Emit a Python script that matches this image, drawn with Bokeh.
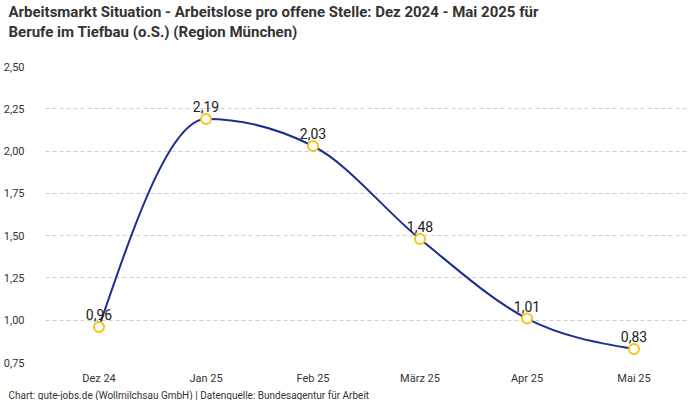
import numpy as np
from bokeh.plotting import figure
from bokeh.models import (Range1d, FixedTicker, CustomJSTickFormatter, Title,
                          ColumnDataSource)
from bokeh.core.properties import value
from bokeh.embed import file_html
from bokeh.resources import INLINE

categories = ["Dez 24", "Jan 25", "Feb 25", "März 25", "Apr 25", "Mai 25"]
values = [0.96, 2.19, 2.03, 1.48, 1.01, 0.83]
y_ticks = [0.75, 1.00, 1.25, 1.50, 1.75, 2.00, 2.25, 2.50]
title_line1 = "Arbeitsmarkt Situation - Arbeitslose pro offene Stelle: Dez 2024 - Mai 2025 für"
title_line2 = "Berufe im Tiefbau (o.S.) (Region München)"
footer = "Chart: gute-jobs.de (Wollmilchsau GmbH) | Datenquelle: Bundesagentur für Arbeit"

LINE_COLOR = "#1c2f8e"
MARK_COLOR = "#f7c412"
TEXT_FONT = "Roboto"
TITLE_FONT = "Roboto"

xs = np.arange(len(values), dtype=float)
ys = np.array(values, dtype=float)

# d3 curveMonotoneX tangents
n = len(xs)
h = np.diff(xs)
s = np.diff(ys) / h
t = np.zeros(n)
for i in range(1, n - 1):
    s0, s1 = s[i - 1], s[i]
    p_ = (s0 * h[i] + s1 * h[i - 1]) / (h[i - 1] + h[i])
    t[i] = (np.sign(s0) + np.sign(s1)) * min(abs(s0), abs(s1), 0.5 * abs(p_))
t[0] = (3 * s[0] - t[1]) / 2
t[-1] = (3 * s[-1] - t[-2]) / 2
dx = h / 3
bez = ColumnDataSource(dict(
    x0=xs[:-1], y0=ys[:-1], x1=xs[1:], y1=ys[1:],
    cx0=xs[:-1] + dx, cy0=ys[:-1] + dx * t[:-1],
    cx1=xs[1:] - dx, cy1=ys[1:] - dx * t[1:],
))

pts = ColumnDataSource(dict(
    x=xs, y=ys, label=[f"{v:.2f}".replace(".", ",") for v in values]))

p = figure(frame_width=642, frame_height=296, output_backend="svg",
           toolbar_location=None,
           x_range=Range1d(-0.5, len(values) - 0.5),
           y_range=Range1d(y_ticks[0], y_ticks[-1]),
           min_border_left=42, min_border_right=2, min_border_top=64,
           min_border_bottom=27)
p.outline_line_color = None
p.background_fill_color = "white"
p.border_fill_color = "white"

p.title.text = title_line1
p.title.text_font = TITLE_FONT
p.title.text_font_size = "15px"
p.title.text_font_style = "bold"
p.title.text_color = "#333333"
p.title.offset = -37
p.title.standoff = 0
t2 = Title(text=title_line2, text_font=TITLE_FONT, text_font_size="15px",
           text_font_style="bold", text_color="#333333", offset=-37,
           standoff=0)
spacer = Title(text=" ", text_font=TITLE_FONT, text_font_size="1px",
               standoff=23)
p.above = [spacer, t2]
tf = Title(text=footer, text_font=TEXT_FONT, text_font_size="10px",
           text_font_style="normal", text_color="#333333", offset=-37, standoff=0)
p.add_layout(tf, "below")

# axes
p.xaxis.ticker = FixedTicker(ticks=list(range(len(categories))))
p.xaxis.major_label_overrides = {i: c for i, c in enumerate(categories)}
p.yaxis.ticker = FixedTicker(ticks=y_ticks)
p.yaxis.formatter = CustomJSTickFormatter(code="return tick.toFixed(2).replace('.', ',');")
for ax in (p.xaxis, p.yaxis):
    ax.axis_line_color = None
    ax.major_tick_line_color = None
    ax.minor_tick_line_color = None
    ax.major_label_text_font = TEXT_FONT
    ax.major_label_text_font_size = "11px"
    ax.major_label_text_color = "#333333"
p.xaxis.major_label_standoff = 3
p.yaxis.major_label_standoff = 15

p.xgrid.grid_line_color = None
p.ygrid.grid_line_color = "#cccccc"
p.ygrid.grid_line_dash = "4 3"
p.ygrid.grid_line_width = 1

p.bezier(x0="x0", y0="y0", x1="x1", y1="y1", cx0="cx0", cy0="cy0",
         cx1="cx1", cy1="cy1", source=bez, line_color=LINE_COLOR, line_width=2)
p.scatter("x", "y", source=pts, size=10, fill_color="white",
          line_color=MARK_COLOR, line_width=2)
p.text("x", "y", text="label", source=pts, text_align="center",
       text_baseline="bottom", y_offset=-7, text_font=value(TEXT_FONT),
       text_font_size="14px", text_color="#222222")

open("out.html", "w").write(file_html(p, INLINE))
